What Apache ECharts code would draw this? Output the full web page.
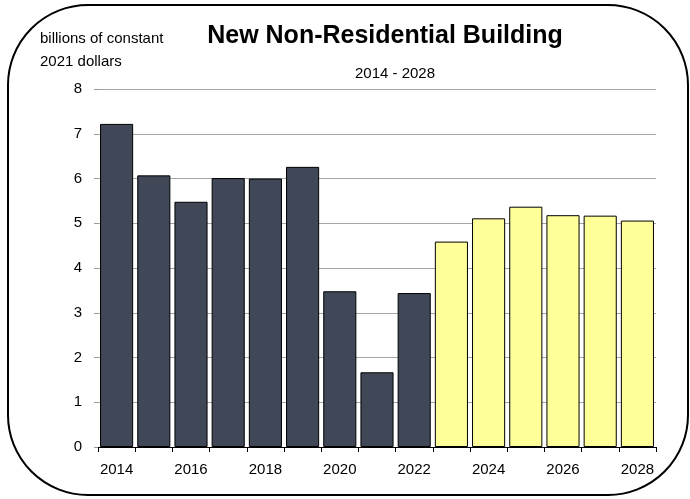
<!DOCTYPE html>
<html>
<head>
<meta charset="utf-8">
<script src="https://cdn.jsdelivr.net/npm/echarts@6/dist/echarts.min.js"></script>
<style>html,body{margin:0;padding:0;background:#fff;}#c{width:690px;height:499px;}</style>
</head>
<body>
<div id="c"></div>
<script>
const years = ['2014','2015','2016','2017','2018','2019','2020','2021','2022','2023','2024','2025','2026','2027','2028'];
const values = [7.22, 6.07, 5.48, 6.01, 6.00, 6.26, 3.48, 1.67, 3.44, 4.59, 5.11, 5.37, 5.18, 5.17, 5.06];
const forecastStart = 9; // index of first forecast year (2023)
const titleText = 'New Non-Residential Building';
const subtitleText = '2014 - 2028';
const unitText = 'billions of constant\n2021 dollars';

const FONT = '"Liberation Sans", Arial, sans-serif';
const chart = echarts.init(document.getElementById('c'), null, {renderer: 'canvas'});
chart.setOption({
  animation: false,
  backgroundColor: '#ffffff',
  graphic: [
    {type: 'rect', shape: {x: 8, y: 5, width: 680, height: 490, r: 80}, style: {fill: 'none', stroke: '#000', lineWidth: 2}, z: 100},
    {type: 'text', left: 40, top: 27, style: {text: unitText, font: '15px ' + FONT, fill: '#000', lineHeight: 23}}
  ],
  title: [
    {text: titleText, left: 380, top: 19, textAlign: 'center', textStyle: {fontFamily: FONT, fontWeight: 'bold', fontSize: 25, color: '#000'}},
    {text: subtitleText, left: 390, top: 61, textAlign: 'center', textStyle: {fontFamily: FONT, fontWeight: 'normal', fontSize: 15, color: '#000'}}
  ],
  grid: {left: 98, right: 34, top: 89, bottom: 52, containLabel: false},
  xAxis: {
    type: 'category', data: years,
    axisLine: {lineStyle: {color: '#000', width: 1}},
    axisTick: {show: true, alignWithLabel: false, interval: 0, length: 5, lineStyle: {color: '#000'}},
    axisLabel: {interval: 1, fontFamily: FONT, fontSize: 15, color: '#000', margin: 15}
  },
  yAxis: {
    type: 'value', min: 0, max: 8, interval: 1,
    axisLine: {show: false},
    axisTick: {show: true, length: 4, lineStyle: {color: '#999'}},
    axisLabel: {fontFamily: FONT, fontSize: 15, color: '#000', margin: 16},
    splitLine: {lineStyle: {color: '#a6a6a6', width: 1}}
  },
  series: [{
    type: 'bar',
    data: values.map((v, i) => ({
      value: v,
      itemStyle: {color: i >= forecastStart ? '#ffff99' : '#404757', borderColor: '#000', borderWidth: 1}
    })),
    barCategoryGap: '11%'
  }]
});
</script>
</body>
</html>
